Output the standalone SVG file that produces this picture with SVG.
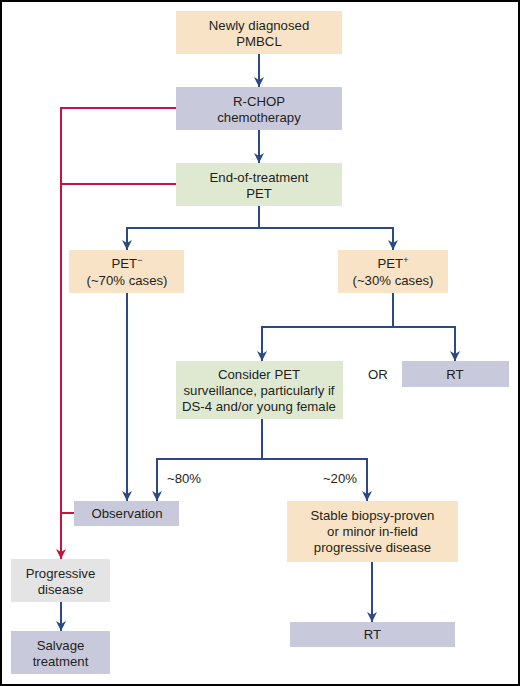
<svg xmlns="http://www.w3.org/2000/svg" width="520" height="686" viewBox="0 0 520 686">
<style>
text{font-family:"Liberation Sans",Arial,sans-serif;font-size:13.2px;fill:#231f20;text-anchor:middle;dominant-baseline:central}
.o{fill:#f9e3c6}.p{fill:#c9c9dc}.g{fill:#dfe9d2}.gr{fill:#e4e4e4}
.b{fill:none;stroke:#2b4a85;stroke-width:2}
.r{fill:none;stroke:#c4163c;stroke-width:2}
.sup{font-size:9px}
</style>
<defs>
<marker id="ab" markerUnits="userSpaceOnUse" markerWidth="12" markerHeight="12" viewBox="0 -6 12 12" refX="10" refY="0" orient="auto"><path d="M0,-5 L10,0 L0,5 L3,0 Z" fill="#2b4a85"/></marker>
<marker id="ar" markerUnits="userSpaceOnUse" markerWidth="12" markerHeight="12" viewBox="0 -6 12 12" refX="10" refY="0" orient="auto"><path d="M0,-5 L10,0 L0,5 L3,0 Z" fill="#c4163c"/></marker>
</defs>
<rect x="0" y="0" width="520" height="686" fill="#fff"/>
<rect x="1" y="1" width="518" height="684" fill="none" stroke="#000" stroke-width="2"/>
<g id="connectors">
<path class="b" d="M259,54 V87" marker-end="url(#ab)"/>
<path class="b" d="M259,130 V163" marker-end="url(#ab)"/>
<path class="b" d="M259,206 V228 H127 V250" marker-end="url(#ab)"/>
<path class="b" d="M259,228 H393 V250" marker-end="url(#ab)"/>
<path class="b" d="M393,293 V327 H262 V361" marker-end="url(#ab)"/>
<path class="b" d="M393,327 H455 V361" marker-end="url(#ab)"/>
<path class="b" d="M127,293 V501" marker-end="url(#ab)"/>
<path class="b" d="M262,419 V459 H157 V501" marker-end="url(#ab)"/>
<path class="b" d="M262,459 H367 V501" marker-end="url(#ab)"/>
<path class="b" d="M372,562 V622" marker-end="url(#ab)"/>
<path class="b" d="M61,602 V631" marker-end="url(#ab)"/>
<path class="r" d="M176,108 H61 V559" marker-end="url(#ar)"/>
<path class="r" d="M176,184 H61"/>
<path class="r" d="M74,513 H61"/>
</g>
<g id="newly"><rect class="o" x="176" y="11" width="166" height="43"/><text x="259" y="25">Newly diagnosed</text><text x="259" y="41">PMBCL</text></g>
<g id="rchop"><rect class="p" x="176" y="87" width="166" height="43"/><text x="259" y="101">R-CHOP</text><text x="259" y="117">chemotherapy</text></g>
<g id="eot"><rect class="g" x="176" y="163" width="166" height="43"/><text x="259" y="177">End-of-treatment</text><text x="259" y="193">PET</text></g>
<g id="petneg"><rect class="o" x="69" y="250" width="115" height="43"/><text x="127" y="263">PET<tspan class="sup" dy="-3">−</tspan></text><text x="127" y="280">(~70% cases)</text></g>
<g id="petpos"><rect class="o" x="338" y="250" width="110" height="43"/><text x="393" y="263">PET<tspan class="sup" dy="-3">+</tspan></text><text x="393" y="280">(~30% cases)</text></g>
<g id="consider"><rect class="g" x="176" y="361" width="167" height="58"/><text x="259" y="374">Consider PET</text><text x="259" y="390">surveillance, particularly if</text><text x="259" y="406">DS-4 and/or young female</text></g>
<g id="or"><text x="378" y="374">OR</text></g>
<g id="rt1"><rect class="p" x="402" y="361" width="107" height="26"/><text x="455" y="374">RT</text></g>
<g id="obs"><rect class="p" x="74" y="501" width="105" height="25"/><text x="127" y="513">Observation</text></g>
<g id="p80"><text x="167" y="478" style="text-anchor:start">~80%</text></g>
<g id="p20"><text x="357" y="478" style="text-anchor:end">~20%</text></g>
<g id="stable"><rect class="o" x="287" y="501" width="171" height="61"/><text x="372.5" y="515">Stable biopsy-proven</text><text x="372.5" y="531">or minor in-field</text><text x="372.5" y="547">progressive disease</text></g>
<g id="rt2"><rect class="p" x="290" y="622" width="165" height="25"/><text x="372.5" y="634">RT</text></g>
<g id="prog"><rect class="gr" x="11" y="559" width="99" height="43"/><text x="60.5" y="573">Progressive</text><text x="60.5" y="589">disease</text></g>
<g id="salvage"><rect class="p" x="11" y="631" width="99" height="43"/><text x="60.5" y="645">Salvage</text><text x="60.5" y="661">treatment</text></g>
</svg>
